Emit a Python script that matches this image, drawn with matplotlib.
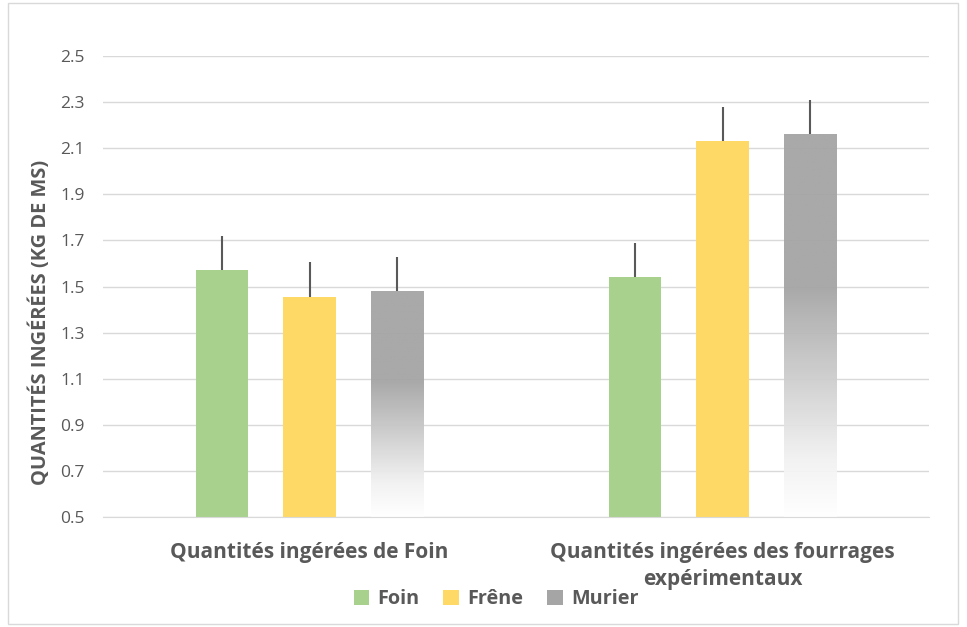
import numpy as np
import matplotlib
matplotlib.use("Agg")
import matplotlib.pyplot as plt
from matplotlib.colors import LinearSegmentedColormap
from matplotlib.patches import Rectangle

plt.rcParams['font.family'] = ['Open Sans', 'DejaVu Sans']

categories = ["Quantités ingérées de Foin",
              "Quantités ingérées des fourrages\nexpérimentaux"]
series = ["Foin", "Frêne", "Murier"]
foin = [1.57, 1.54]
frene = [1.455, 2.13]
murier = [1.48, 2.16]
err_foin = [0.15, 0.15]
err_frene = [0.15, 0.15]
err_murier = [0.15, 0.15]

colors = ["#A9D18E", "#FFD966", "#A5A5A5"]
txt = "#595959"

fig = plt.figure(figsize=(9.67, 6.27), dpi=100)
ax = fig.add_axes([103 / 967, 1 - 517 / 627, 826 / 967, 461 / 627])
fig.patches.append(Rectangle((8 / 967, 0.005), 950 / 967, 0.99, transform=fig.transFigure,
                             fill=False, edgecolor="#D9D9D9", linewidth=1))

x = np.arange(len(categories))
w = 0.126
off = 0.213
ymin = 0.5

values = [foin, frene, murier]
errs = [err_foin, err_frene, err_murier]

gray_cmap = LinearSegmentedColormap.from_list(
    "g", [(0.0, "#FFFFFF"), (0.15, "#F2F2F2"), (0.6, "#A5A5A5"), (1.0, "#A5A5A5")])

handles = []
for i, (vals, er) in enumerate(zip(values, errs)):
    pos = x + (i - 1) * off
    if i < 2:
        ax.bar(pos, np.array(vals) - ymin, w, bottom=ymin, color=colors[i], zorder=2)
    else:
        grad = np.linspace(0, 1, 256).reshape(-1, 1)
        for p, v in zip(pos, vals):
            ax.imshow(grad, cmap=gray_cmap, origin="lower", aspect="auto",
                      extent=[p - w / 2, p + w / 2, ymin, v], zorder=1.5, alpha=0.95)
    ax.errorbar(pos, vals, yerr=[np.zeros(len(er)), er], fmt="none",
                ecolor="#595959", elinewidth=1.5, capsize=0, zorder=3)
    handles.append(Rectangle((0, 0), 1, 1, facecolor=colors[i], edgecolor="none"))

ax.set_xlim(-0.5, 1.5)
ax.set_ylim(0.5, 2.5)
ax.set_yticks(np.arange(0.5, 2.51, 0.2))
ax.set_yticklabels([f"{v:.1f}" for v in np.arange(0.5, 2.51, 0.2)])
ax.set_xticks(x)
ax.set_xticklabels(categories, fontsize=15, fontweight="bold", color=txt,
                   linespacing=1.35, va="top")
ax.tick_params(axis="y", length=0, pad=13, labelsize=12.5, labelcolor=txt)
ax.tick_params(axis="x", length=0, pad=18)
ax.grid(axis="y", color="#D9D9D9", linewidth=1, zorder=1)
ax.set_axisbelow(True)
for s in ["top", "right", "left"]:
    ax.spines[s].set_visible(False)
ax.spines["bottom"].set_color("#D9D9D9")

fig.text(40 / 967, 1 - 322 / 627, "QUANTITÉS INGÉRÉES (KG DE MS)", rotation=90,
         ha="center", va="center", fontsize=14.4, fontweight="bold", color=txt)

fig.legend(handles, series, loc="center", bbox_to_anchor=(496 / 967, 1 - 599 / 627),
           ncol=3, frameon=False, handlelength=0.8, handleheight=0.8,
           columnspacing=1.2, handletextpad=0.4,
           prop={"size": 14.3, "weight": "bold"}, labelcolor=txt)

fig.savefig("out.png", dpi=100)
